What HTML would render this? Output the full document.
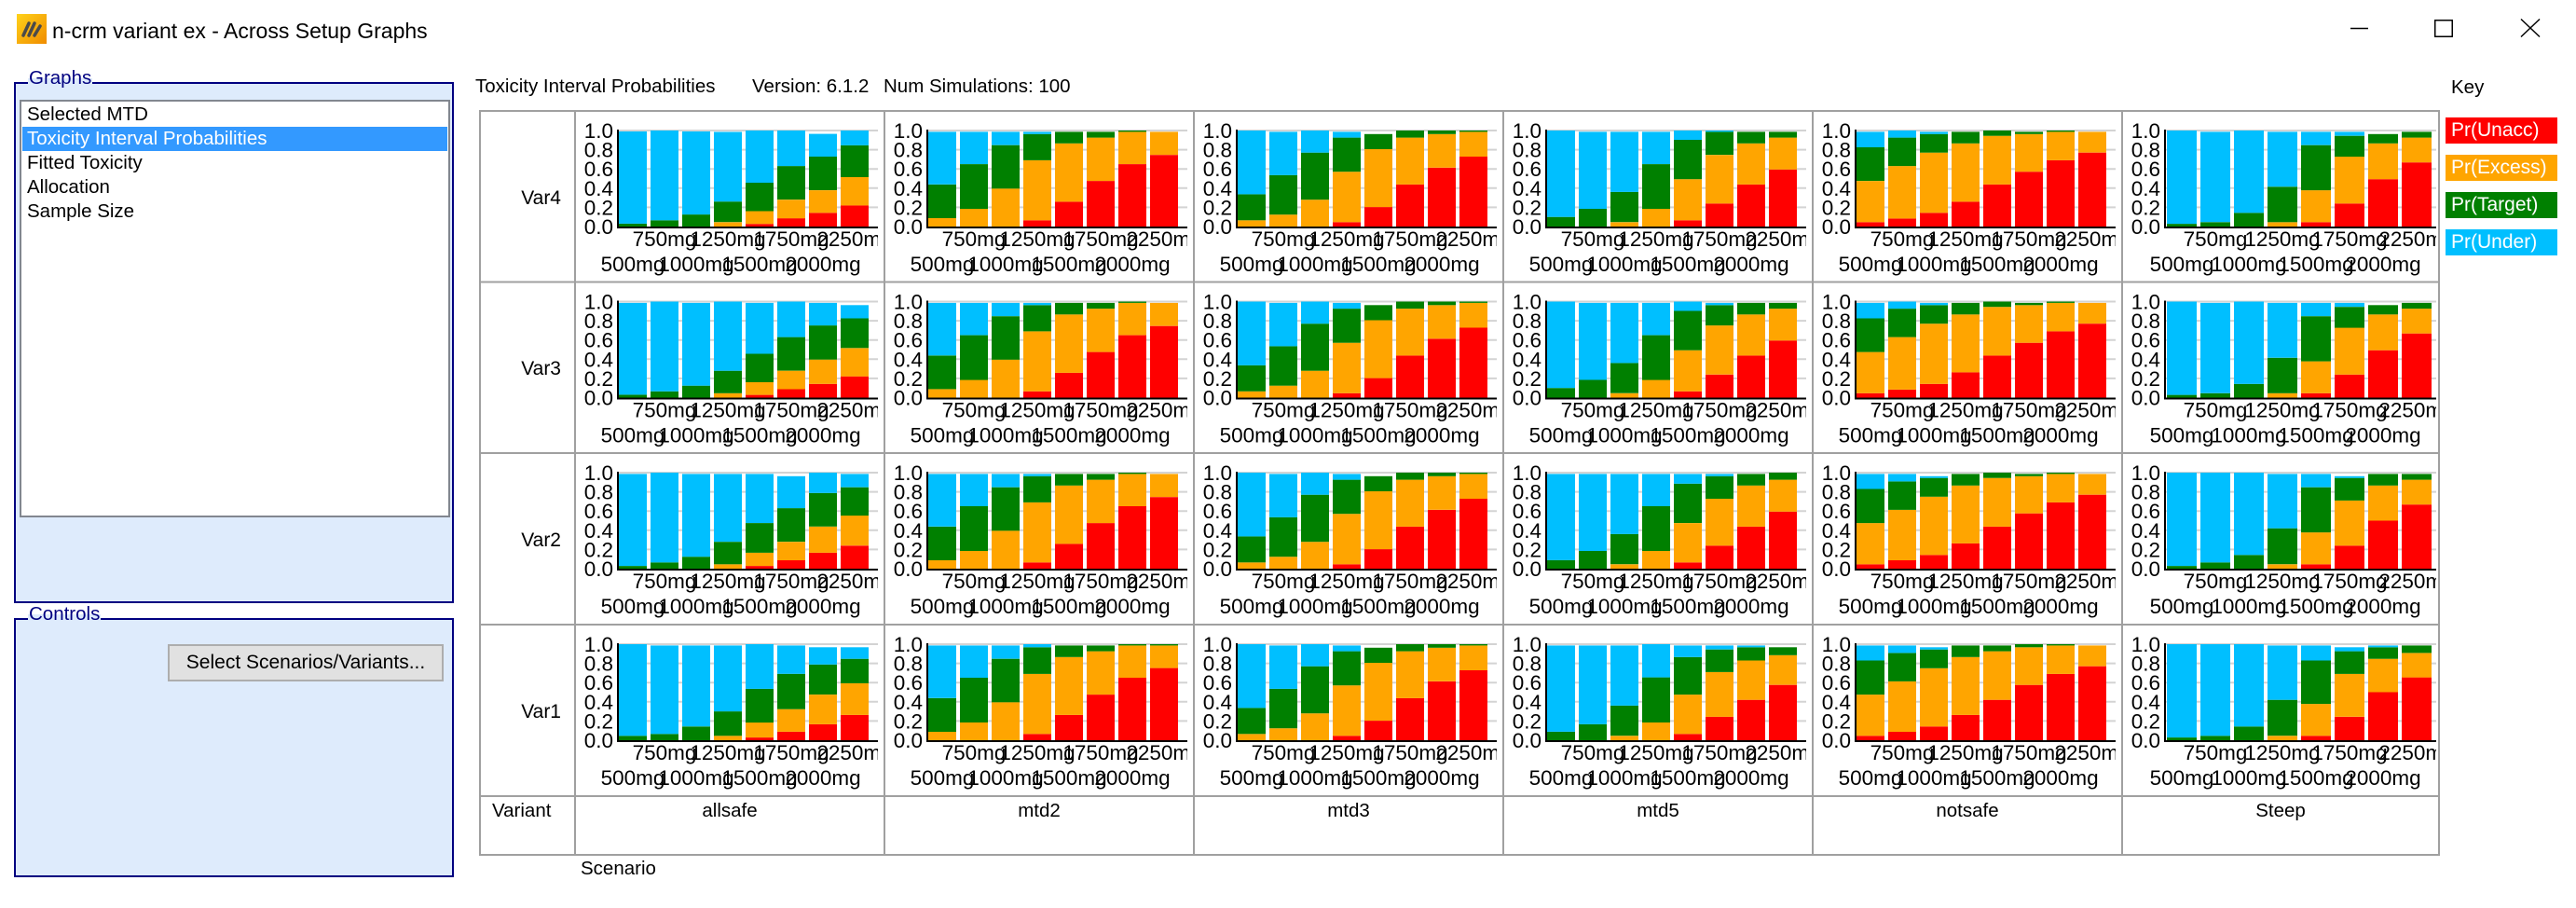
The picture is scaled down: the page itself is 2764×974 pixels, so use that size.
<!DOCTYPE html>
<html><head><meta charset="utf-8">
<style>
html,body{margin:0;padding:0;background:#fff;}
body{width:2764px;height:974px;position:relative;overflow:hidden;font-family:"Liberation Sans",Arial,sans-serif;color:#000;}
.a{position:absolute;white-space:nowrap;}
.gb{position:absolute;border:2px solid #000080;background:#deebfc;box-sizing:border-box;}
.gl{position:absolute;font-size:20.5px;color:#000080;line-height:24px;padding:0 1px;background:linear-gradient(#fff 50%,#deebfc 50%);}
.lb{position:absolute;left:21px;top:107px;width:462px;height:448px;border:2px solid #828790;background:#fff;box-sizing:border-box;}
.it{position:absolute;left:6px;height:26px;line-height:26px;font-size:20.5px;}
.btn{position:absolute;left:180px;top:691px;width:296px;height:40px;background:#e1e1e1;border:2px solid #adadad;box-sizing:border-box;font-size:21px;line-height:36px;text-align:center;}
.key{position:absolute;left:2624px;width:120px;height:28px;color:#fff;font-size:21px;line-height:28px;padding-left:6px;box-sizing:border-box;}
</style></head>
<body>
<!-- title bar -->
<svg class="a" style="left:18px;top:15px" width="32" height="32"><defs><linearGradient id="ig" x1="0" y1="0" x2="1" y2="1"><stop offset="0" stop-color="#ffd21a"/><stop offset="1" stop-color="#f08c00"/></linearGradient></defs><rect width="32" height="32" fill="url(#ig)"/><g stroke="#4a4a4a" stroke-width="3.5" stroke-linecap="round"><line x1="7" y1="23" x2="13" y2="10"/><line x1="13" y1="23" x2="19" y2="10"/><line x1="19" y1="23" x2="25" y2="13"/></g></svg>
<div class="a" style="left:56px;top:19px;font-size:23px;line-height:28px;">n-crm variant ex - Across Setup Graphs</div>
<svg class="a" style="left:2500px;top:10px" width="250" height="40">
<line x1="22" y1="20.5" x2="41" y2="20.5" stroke="#000" stroke-width="1.5"/>
<rect x="112.75" y="11.75" width="18.5" height="17.5" fill="none" stroke="#000" stroke-width="1.5"/>
<line x1="205" y1="10.5" x2="225" y2="29.5" stroke="#000" stroke-width="1.5"/>
<line x1="225" y1="10.5" x2="205" y2="29.5" stroke="#000" stroke-width="1.5"/>
</svg>

<!-- Graphs group -->
<div class="gb" style="left:15px;top:88px;width:472px;height:559px;"></div>
<div class="gl" style="left:30px;top:72px;">Graphs</div>
<div class="lb">
  <div class="it" style="top:1px;">Selected MTD</div>
  <div style="position:absolute;left:1px;top:27px;width:456px;height:26px;background:#3399ff;"></div>
  <div class="it" style="top:27px;color:#fff;">Toxicity Interval Probabilities</div>
  <div class="it" style="top:53px;">Fitted Toxicity</div>
  <div class="it" style="top:79px;">Allocation</div>
  <div class="it" style="top:105px;">Sample Size</div>
</div>

<!-- Controls group -->
<div class="gb" style="left:15px;top:663px;width:472px;height:278px;"></div>
<div class="gl" style="left:30px;top:647px;">Controls</div>
<div class="btn">Select Scenarios/Variants...</div>

<!-- header -->
<div class="a" style="left:510px;top:81px;font-size:20.5px;line-height:24px;">Toxicity Interval Probabilities</div>
<div class="a" style="left:807px;top:81px;font-size:20.5px;line-height:24px;">Version: 6.1.2</div>
<div class="a" style="left:948px;top:81px;font-size:20.5px;line-height:24px;">Num Simulations: 100</div>

<!-- key -->
<div class="a" style="left:2630px;top:82px;font-size:20.5px;line-height:24px;">Key</div>
<div class="key" style="top:126px;background:#ff0000;">Pr(Unacc)</div>
<div class="key" style="top:166px;background:#ffa500;">Pr(Excess)</div>
<div class="key" style="top:206px;background:#008000;">Pr(Target)</div>
<div class="key" style="top:246px;background:#00bfff;">Pr(Under)</div>

<!-- table labels -->
<div class="a" style="left:528px;top:858px;font-size:20.5px;line-height:24px;">Variant</div>
<div class="a" style="left:623px;top:920px;font-size:20.5px;line-height:24px;">Scenario</div>
<div class="a" style="left:0;width:602px;text-align:right;top:201px;font-size:21px;line-height:24px;">Var4</div>
<div class="a" style="left:0;width:602px;text-align:right;top:384px;font-size:21px;line-height:24px;">Var3</div>
<div class="a" style="left:0;width:602px;text-align:right;top:568px;font-size:21px;line-height:24px;">Var2</div>
<div class="a" style="left:0;width:602px;text-align:right;top:752px;font-size:21px;line-height:24px;">Var1</div>
<div class="a" style="left:617px;width:332px;text-align:center;top:858px;font-size:20.5px;line-height:24px;">allsafe</div>
<div class="a" style="left:949px;width:332px;text-align:center;top:858px;font-size:20.5px;line-height:24px;">mtd2</div>
<div class="a" style="left:1281px;width:332px;text-align:center;top:858px;font-size:20.5px;line-height:24px;">mtd3</div>
<div class="a" style="left:1613px;width:332px;text-align:center;top:858px;font-size:20.5px;line-height:24px;">mtd5</div>
<div class="a" style="left:1945px;width:332px;text-align:center;top:858px;font-size:20.5px;line-height:24px;">notsafe</div>
<div class="a" style="left:2277px;width:340px;text-align:center;top:858px;font-size:20.5px;line-height:24px;">Steep</div>

<svg id="tbl" class="a" style="left:0;top:0" width="2764" height="974"></svg>

<script>
(function(){
var A4=[[0,0,.03,.99],[0,0,.065,1],[0,0,.125,.99],[0,.046,.26,.985],[.027,.16,.456,1],[.086,.28,.63,1],[.143,.378,.728,.965],[.22,.515,.846,1]];
var A3=[[0,0,.03,.986],[0,0,.065,1],[0,0,.124,.986],[0,.046,.28,1],[.028,.16,.456,.986],[.088,.28,.63,1],[.143,.396,.751,.986],[.221,.516,.825,.963]];
var A2=[[0,0,.028,.986],[0,0,.065,1],[0,0,.124,.986],[0,.046,.28,.986],[.028,.166,.475,.986],[.088,.28,.63,.963],[.166,.438,.788,1],[.24,.553,.848,.986]];
var A1=[[0,0,.046,1],[0,0,.065,.986],[0,0,.143,.986],[0,.046,.3,.986],[.028,.184,.535,1],[.088,.323,.691,.986],[.166,.475,.788,.968],[.263,.594,.848,.968]];
var M2=[[0,.088,.438,.986],[0,.184,.65,.986],[0,.396,.848,.986],[.065,.69,.963,.986],[.258,.866,.986,.986],[.475,.926,.986,.986],[.65,.986,1,1],[.746,.986,.986,.986]];
var M2b=[[0,.088,.438,.986],[0,.184,.65,.986],[0,.396,.848,.986],[.065,.69,.968,1],[.263,.866,.986,.986],[.475,.926,.986,.986],[.65,.986,1,1],[.751,.986,1,1]];
var M3=[[0,.065,.336,1],[0,.124,.535,.986],[0,.28,.77,1],[.046,.571,.926,.986],[.203,.806,.963,.963],[.438,.926,1,1],[.613,.963,1,1],[.728,.986,1,1]];
var F4=[[0,0,.1,1],[0,0,.184,.986],[0,.046,.36,.986],[0,.184,.65,.986],[.065,.493,.903,1],[.24,.746,.986,1],[.438,.866,.986,.986],[.594,.926,.986,.986]];
var F3=[[0,0,.1,1],[0,0,.184,.986],[0,.046,.36,.986],[0,.184,.65,.986],[.065,.493,.903,1],[.24,.751,.963,.986],[.438,.866,.986,.986],[.594,.926,.986,.986]];
var F2=[[0,0,.088,.986],[0,0,.184,.986],[0,.046,.36,.986],[0,.184,.65,.986],[.065,.475,.885,.986],[.24,.728,.963,.986],[.438,.866,.986,.986],[.594,.926,1,1]];
var F1=[[0,0,.088,.986],[0,0,.166,.986],[0,.046,.36,.986],[0,.184,.654,1],[.065,.475,.866,.986],[.244,.71,.945,.986],[.42,.83,.968,.986],[.576,.885,.968,.968]];
var N4=[[.046,.475,.825,.986],[.083,.63,.926,1],[.143,.77,.963,.986],[.258,.866,.986,.986],[.438,.945,1,1],[.571,.963,.986,.986],[.69,.986,1,1],[.77,.986,.986,.986]];
var N3=[[.046,.475,.825,.986],[.083,.63,.926,1],[.143,.77,.963,.986],[.263,.866,.986,.986],[.438,.945,1,1],[.571,.963,.986,.986],[.69,.986,1,1],[.77,.986,.986,.986]];
var N2=[[.046,.475,.83,.986],[.088,.613,.908,.986],[.143,.75,.945,.963],[.263,.866,.986,.986],[.438,.945,1,1],[.576,.963,.986,.986],[.69,.986,1,1],[.77,.986,.986,.986]];
var N1=[[.046,.475,.83,.986],[.088,.613,.908,.986],[.143,.75,.945,.968],[.263,.866,.986,.986],[.42,.926,.986,.986],[.576,.968,1,1],[.69,.986,1,1],[.77,.986,.986,.986]];
var S4=[[0,0,.028,1],[0,0,.046,.986],[0,0,.143,1],[0,.046,.415,.986],[.046,.378,.848,.986],[.24,.728,.945,.986],[.493,.866,.963,.963],[.668,.926,.986,.986]];
var S2=[[0,0,.028,1],[0,0,.065,1],[0,0,.143,1],[0,.046,.42,.986],[.046,.378,.848,.986],[.24,.71,.945,.963],[.5,.866,.986,.986],[.668,.926,.986,.986]];
var S1=[[0,0,.028,1],[0,0,.046,1],[0,0,.143,1],[0,.046,.42,.986],[.046,.378,.83,.986],[.244,.69,.926,.968],[.5,.848,.968,.986],[.654,.908,.986,.986]];
var D=[[A4,M2,M3,F4,N4,S4],[A3,M2,M3,F3,N3,S4],[A2,M2,M3,F2,N2,S2],[A1,M2b,M3,F1,N1,S1]];
var cols=[617,949,1281,1613,1945,2277];
var rows=[119,302.5,486,670];
var labs=['500mg','750mg','1000mg','1250mg','1500mg','1750mg','2000mg','2250mg'];
var colr=['#ff0000','#ffa500','#008000','#00bfff'];
var s='';
var defs='<defs>';
var FF='font-family="Liberation Sans, Arial, sans-serif"';
for(var r=0;r<4;r++){
  var T=rows[r];
  for(var c=0;c<6;c++){
    var L=cols[c];
    var steep=(c==5);
    var pitch=steep?36:34, bw=pitch-4;
    var x0=L+47+(steep?1:0);
    var ax=L+46;
    var pr=steep?L+337:L+325;
    var base=T+124, u=103;
    var id='c'+r+'_'+c;
    defs+='<clipPath id="'+id+'"><rect x="'+L+'" y="'+T+'" width="'+(pr-L)+'" height="183"/></clipPath>';
    // gridlines
    for(var k=1;k<=5;k++){
      var gy=base-u*0.2*k;
      s+='<line x1="'+ax+'" y1="'+gy+'" x2="'+pr+'" y2="'+gy+'" stroke="#d3d3d3" stroke-width="2"/>';
    }
    // bars
    var d=D[r][c];
    for(var i=0;i<8;i++){
      var v=d[i], prev=0, bx=x0+pitch*i;
      for(var j=0;j<4;j++){
        var top=v[j];
        if(top-prev>0.001){
          var y1=base-u*top, y2=base-u*prev;
          s+='<rect x="'+bx+'" y="'+y1.toFixed(1)+'" width="'+bw+'" height="'+(y2-y1).toFixed(1)+'" fill="'+colr[j]+'"/>';
        }
        if(top>prev) prev=top;
      }
    }
    // axes
    s+='<line x1="'+ax+'" y1="'+(T+20)+'" x2="'+ax+'" y2="'+(T+126)+'" stroke="#000" stroke-width="2"/>';
    s+='<line x1="'+(ax-1)+'" y1="'+(T+125)+'" x2="'+pr+'" y2="'+(T+125)+'" stroke="#000" stroke-width="2"/>';
    // tick labels
    for(var k=0;k<=5;k++){
      var ty=base-u*0.2*k;
      s+='<text x="'+(L+41)+'" y="'+(ty+8).toFixed(1)+'" text-anchor="end" font-size="22.5" '+FF+'>'+(k==5?'1.0':'0.'+(2*k))+'</text>';
    }
    // x labels
    s+='<g clip-path="url(#'+id+')">';
    for(var i=0;i<8;i++){
      var cx=x0+pitch*i+bw/2;
      var ly=(i%2==1)?T+145:T+172;
      s+='<text x="'+cx+'" y="'+ly+'" text-anchor="middle" font-size="22.5" '+FF+'>'+labs[i]+'</text>';
    }
    s+='</g>';
  }
}
defs+='</defs>';
// table grid
var g='<g stroke="#a0a0a0" stroke-width="2" fill="none">';
g+='<rect x="515" y="119" width="2102" height="798"/>';
[617,949,1281,1613,1945,2277].forEach(function(x){g+='<line x1="'+x+'" y1="119" x2="'+x+'" y2="917"/>';});
[302.5,486,670,854].forEach(function(y){g+='<line x1="515" y1="'+y+'" x2="2617" y2="'+y+'"/>';});
g+='</g>';
document.getElementById('tbl').innerHTML=defs+s+g;
})();
</script>
</body></html>
